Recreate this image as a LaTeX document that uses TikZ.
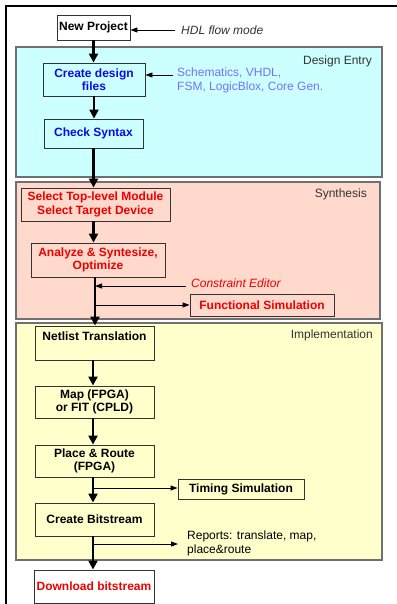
\documentclass[tikz,border=0pt]{standalone}
\usepackage{fontspec}
\setmainfont{Liberation Sans}
\usetikzlibrary{arrows.meta}
\definecolor{deblue}{HTML}{CCFFFF}
\definecolor{synred}{HTML}{FFD9CC}
\definecolor{impyel}{HTML}{FFFFCC}
\definecolor{txtblue}{HTML}{0A0AF0}
\definecolor{txtred}{HTML}{EE0000}
\definecolor{litblue}{HTML}{7373FF}
\definecolor{boxgray}{HTML}{333333}
\definecolor{reggray}{HTML}{707070}

\begin{document}
\begin{tikzpicture}[x=1pt,y=-1pt,
  every node/.style={font=\fontsize{12}{13.5}\selectfont,inner sep=1pt},
  stepbox/.style={draw=boxgray,line width=0.9pt,minimum width=#1,align=center,font=\fontsize{12}{13.5}\selectfont\bfseries},
  region/.style={draw=reggray,line width=1.3pt},
  mainarrow/.style={line width=2.2pt,-{Triangle[width=9pt,length=9pt]}},
  sidearrow/.style={line width=0.9pt,-{Triangle[width=5pt,length=7pt]}}]

\useasboundingbox (0,0) rectangle (396,604);
\draw[line width=1.2pt] (6,6) rectangle (410,620);

% regions
\draw[region,fill=deblue] (16,47) rectangle (382,177);
\draw[region,fill=synred] (16,182) rectangle (380,319);
\draw[region,fill=impyel] (16,323) rectangle (382,560);
\node[anchor=east,text=boxgray] (lde) at (373,61) {Design Entry};
\node[anchor=east,text=boxgray] (lsyn) at (368,194) {Synthesis};
\node[anchor=east,text=boxgray] (limp) at (374,335) {Implementation};

% flow boxes
\node[stepbox=73pt,minimum height=25pt,fill=white] (np) at (93.5,27.5) {New Project};
\node[stepbox=102pt,minimum height=33pt,fill=deblue,text=txtblue] (cdf) at (94,79.5) {Create design\\files};
\node[stepbox=99pt,minimum height=29pt,fill=deblue,text=txtblue] (cs) at (93.5,133.5) {Check Syntax};
\node[stepbox=149pt,minimum height=33pt,fill=synred,text=txtred] (stm) at (95.5,204.5) {Select Top-level Module\\Select Target Device};
\node[stepbox=134pt,minimum height=34pt,fill=synred,text=txtred] (asy) at (98,260) {Analyze \& Syntesize,\\Optimize};
\node[stepbox=144pt,minimum height=22pt,fill=synred,text=txtred] (fs) at (262,305) {Functional Simulation};
\node[stepbox=119pt,minimum height=34pt,fill=impyel] (nt) at (94.5,343) {Netlist Translation\\\mbox{}};
\node[stepbox=119pt,minimum height=32pt,fill=impyel] (map) at (94.5,402) {Map (FPGA)\\or FIT (CPLD)};
\node[stepbox=119pt,minimum height=32pt,fill=impyel] (pr) at (94.5,461) {Place \& Route\\(FPGA)};
\node[stepbox=126pt,minimum height=20pt,fill=impyel] (ts) at (241,489) {Timing Simulation};
\node[stepbox=119pt,minimum height=33pt,fill=impyel] (cb) at (94.5,519.5) {Create Bitstream};
\node[stepbox=120pt,minimum height=33pt,fill=white,text=txtred] (db) at (94,586.5) {Download bitstream};

% side texts
\node[anchor=west,text=boxgray,font=\fontsize{12}{13.5}\selectfont\itshape] (hdl) at (180,30) {HDL flow mode};
\node[anchor=north west,text=litblue,align=left] (sch) at (176,67) {Schematics, VHDL,\\FSM, LogicBlox, Core Gen.};
\node[anchor=west,text=txtred,font=\fontsize{12}{13.5}\selectfont\itshape] (ce) at (190,283) {Constraint Editor};
\node[anchor=north west,align=left,text=black] (rep) at (186,530) {Reports: translate, map,\\place\&route};

\coordinate (jce) at (95,286);
\coordinate (jfs) at (95,305);
\coordinate (jts) at (93,488);
\coordinate (jrep) at (93,544);

% main flow
\draw[mainarrow] (np.south) -- (np.south |- cdf.north);
\draw[mainarrow] (cdf.south) -- (cdf.south |- cs.north);
\draw[mainarrow] (cs.south) -- (cs.south |- stm.north);
\draw[mainarrow] (stm.south -| cs.south) -- (cs.south |- asy.north);
\draw[mainarrow] (asy.south -| jce) -- (nt.north -| jce);
\draw[mainarrow] (nt.south -| jts) -- (map.north -| jts);
\draw[mainarrow] (map.south -| jts) -- (pr.north -| jts);
\draw[mainarrow] (pr.south -| jts) -- (cb.north -| jts);
\draw[mainarrow] (cb.south -| jts) -- (db.north -| jts);

% side arrows
\draw[sidearrow] ([xshift=-5pt]hdl.west) -- (np.east |- hdl.west);
\draw[sidearrow] ([xshift=-3pt]sch.west |- 0,75) -- ([yshift=4.5pt]cdf.east);
\draw[sidearrow] ([xshift=-4pt,yshift=-3pt]ce.west) -- (jce);
\draw[sidearrow] (jfs) -- (fs.west);
\draw[sidearrow] (jts) -- (jts -| ts.west);
\draw[sidearrow] (jrep) -- (178,544);
\end{tikzpicture}
\end{document}
